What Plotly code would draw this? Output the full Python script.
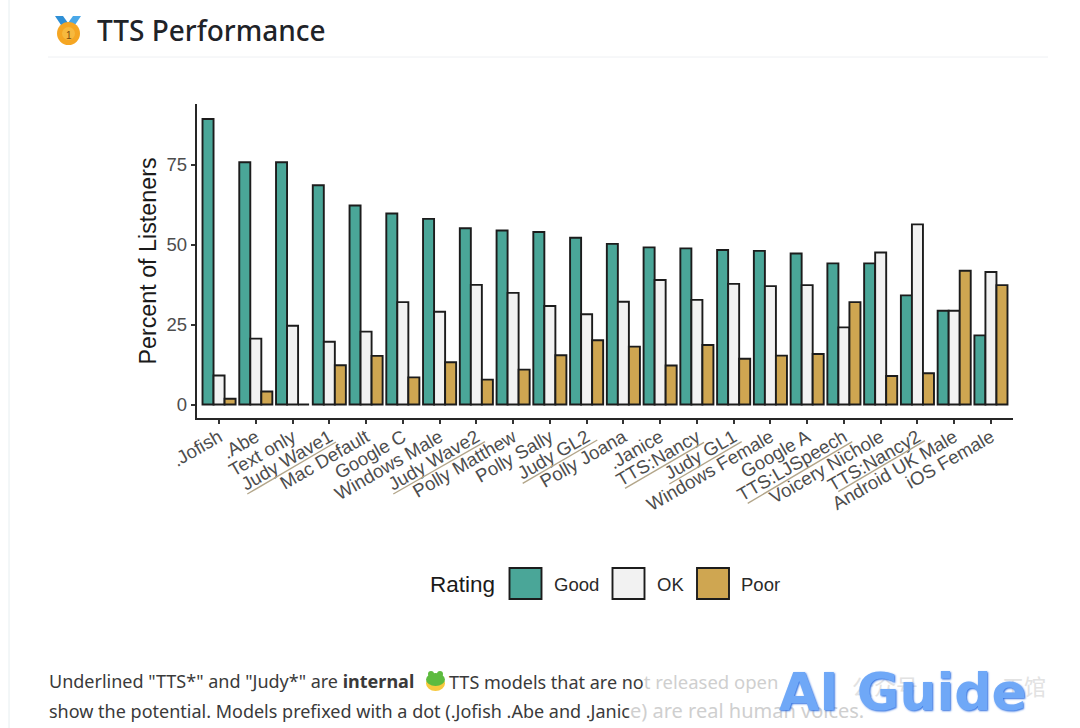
import plotly.graph_objects as go

W, H = 1080, 728

categories = [".Jofish", ".Abe", "Text only", "Judy Wave1", "Mac Default", "Google C",
              "Windows Male", "Judy Wave2", "Polly Matthew", "Polly Sally", "Judy GL2",
              "Polly Joana", ".Janice", "TTS:Nancy", "Judy GL1", "Windows Female",
              "Google A", "TTS:LJSpeech", "Voicery Nichole", "TTS:Nancy2",
              "Android UK Male", "iOS Female"]
good = [89.2, 75.7, 75.7, 68.5, 62.2, 59.7, 58.0, 55.1, 54.4, 53.9, 52.1,
        50.2, 49.1, 48.8, 48.3, 48.0, 47.2, 44.1, 44.1, 34.1, 29.3, 21.6]
ok = [9.1, 20.6, 24.6, 19.6, 22.8, 32.0, 29.0, 37.4, 34.9, 30.8, 28.2,
      32.1, 38.9, 32.7, 37.7, 37.0, 37.3, 24.1, 47.5, 56.3, 29.3, 41.4]
poor = [1.8, 4.1, 0, 12.3, 15.2, 8.5, 13.2, 7.8, 10.9, 15.4, 20.1,
        18.1, 12.2, 18.6, 14.3, 15.3, 15.8, 32.0, 8.9, 9.8, 41.8, 37.3]
series_names = ["Good", "OK", "Poor"]
series_colors = ["#4AA698", "#F2F2F2", "#CFA651"]
y_ticks = [0, 25, 50, 75]


def px(x):
    return x / W


def py(y):
    return 1 - y / H


fig = go.Figure()
for name, vals, col in zip(series_names, [good, ok, poor], series_colors):
    fig.add_bar(x=categories, y=vals, name=name, marker=dict(color=col, line=dict(color="#1c1c1c", width=1.9)),
                showlegend=False)

shapes = []


def line(x0, y0, x1, y1, color, width):
    shapes.append(dict(type="line", xref="paper", yref="paper", x0=px(x0), y0=py(y0), x1=px(x1), y1=py(y1),
                       line=dict(color=color, width=width)))


def rect(x0, y0, x1, y1, fill, color="rgba(0,0,0,0)", width=0):
    shapes.append(dict(type="rect", xref="paper", yref="paper", x0=px(x0), y0=py(y0), x1=px(x1), y1=py(y1),
                       fillcolor=fill, line=dict(color=color, width=width)))


def circle(x0, y0, x1, y1, fill, color="rgba(0,0,0,0)", width=0):
    shapes.append(dict(type="circle", xref="paper", yref="paper", x0=px(x0), y0=py(y0), x1=px(x1), y1=py(y1),
                       fillcolor=fill, line=dict(color=color, width=width)))


def poly(points, fill):
    d = "M" + " L".join(f"{px(a):.5f},{py(b):.5f}" for a, b in points) + " Z"
    shapes.append(dict(type="path", xref="paper", yref="paper", path=d, fillcolor=fill, line=dict(width=0)))


# page furniture
line(9, 0, 9, 728, "#E6EEF0", 1)
line(48, 57, 1048, 57, "#EEF0F3", 1)

# medal
poly([(55, 16), (63, 16), (71, 27), (65, 31)], "#2E8FD6")
poly([(81, 16), (73, 16), (65, 27), (71, 31)], "#4AA8E8")
circle(57, 22, 80, 45, "#F5A623")
circle(62, 27, 75, 40, "#F7B93E")

# frog
circle(426, 676, 445, 691, "#F7C93E")
circle(426, 673, 445, 686, "#5DBB3F")
circle(428, 671, 434, 677, "#5DBB3F")
circle(437, 671, 443, 677, "#5DBB3F")

# underlines on the internal models
for a, b, c, d in [(247.3, 494, 336, 442), (393.3, 494, 485, 441.7), (522.7, 483.3, 597.3, 440),
                   (625, 488.3, 704, 442.3), (669.3, 484, 741.7, 441.7), (747.7, 503.3, 852.3, 441.7),
                   (838.3, 491.7, 925, 440.7)]:
    line(a, b, c, d, "#B3A68A", 1.4)

# legend keys
for x0, col in zip([509.5, 612.5, 697], series_colors):
    rect(x0, 568, x0 + 32, 599, col, "#1c1c1c", 1.9)

annotations = []


def text(x, y, s, size, color="#333333", family="Liberation Sans", anchor="left", **kw):
    annotations.append(dict(xref="paper", yref="paper", x=px(x), y=py(y), text=s, showarrow=False,
                            xanchor=anchor, yanchor="middle",
                            font=dict(size=size, color=color, family=family, **kw)))


text(95, 30, "TTS Performance", 28, "#1F2328", "Noto Sans", weight=500)
text(68.5, 35, "1", 10, "#7A4A10", "Liberation Sans", "center")

text(428, 584.5, "Rating", 22.5, "#1a1a1a")
for x, name in zip([552, 655, 739], series_names):
    text(x, 584.5, name, 18.5, "#2a2a2a")

body = "Noto Sans"
text(47, 681, 'Underlined "TTS*" and "Judy*" are <b>internal</b>', 18, "#3A3A3A", body)
text(447, 681, 'TTS models that are no<span style="color:#CFCFCF;font-size:18.5px">t released open</span>', 18, "#3A3A3A", body)
text(47, 710, 'show the potential. Models prefixed with a dot (.Jofish .Abe and .Janic'
              '<span style="color:#CFCFCF;font-size:20px">e) are real human voices.</span>', 18, "#3A3A3A", body)

# watermark
text(850, 685, "公众号", 22, "#E2E2E2", "Noto Sans CJK SC")
text(1000, 685, "工馆", 22, "#E2E2E2", "Noto Sans CJK SC")
text(777, 692, "AI Guide", 52, "#6FA8F7", "DejaVu Sans", weight=700, shadow="1px 1px 2px #2F6FE0")

fig.update_layout(
    width=W, height=H, autosize=False,
    margin=dict(l=0, r=0, t=0, b=0, pad=0),
    paper_bgcolor="white", plot_bgcolor="white",
    barmode="group", bargap=0.1, bargroupgap=0,
    font=dict(family="Liberation Sans"),
    shapes=shapes, annotations=annotations,
    xaxis=dict(domain=[px(197), px(1013)], range=[-0.6, 21.6], showgrid=False, showline=True,
               linecolor="#262626", linewidth=2.4, ticks="outside", ticklen=4, tickwidth=1.5,
               tickcolor="#333333", tickangle=-30, tickfont=dict(size=18.6, color="#4D4D4D"),
               ticklabelstandoff=-5,
               categoryorder="array", categoryarray=categories, automargin=False, zeroline=False),
    yaxis=dict(domain=[py(418), py(104)], range=[-4.2, 93.9], showgrid=False, showline=True,
               linecolor="#262626", linewidth=2.4, ticks="outside", ticklen=4, tickwidth=1.5,
               tickcolor="#333333", tickvals=y_ticks, tickfont=dict(size=18.5, color="#4D4D4D"),
               title=dict(text="Percent of Listeners", font=dict(size=23.3, color="#1a1a1a"), standoff=3),
               automargin=False, zeroline=False),
)

fig.write_html("out.html", config={"displayModeBar": False}, post_script="document.body.style.margin='0';")
